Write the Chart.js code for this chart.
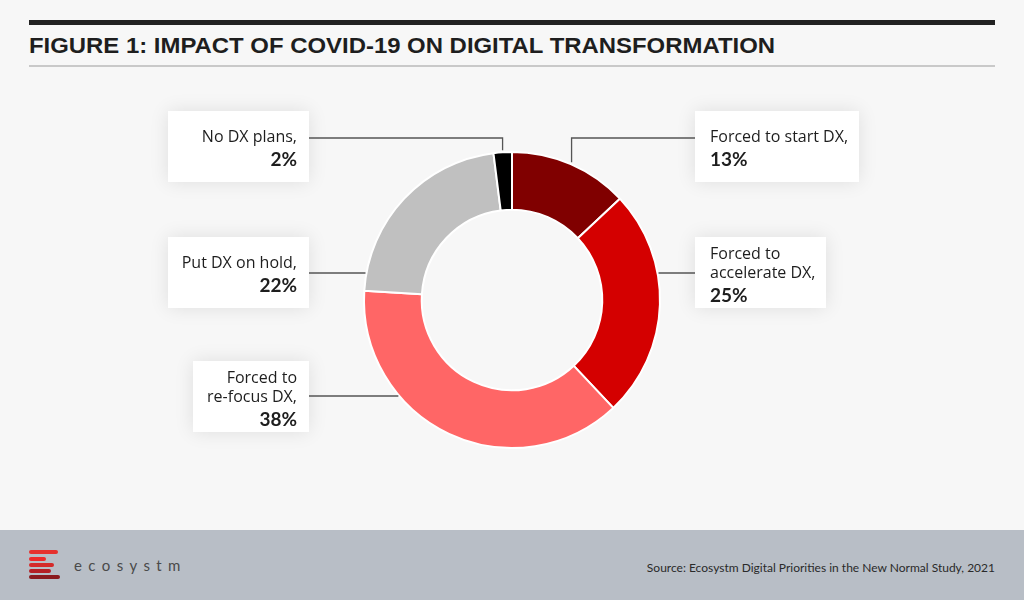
<!DOCTYPE html>
<html>
<head>
<meta charset="utf-8">
<script src="https://cdn.jsdelivr.net/npm/chart.js@4.4.0/dist/chart.umd.min.js"></script>
<style>
body{margin:0;background:#f7f7f7;}
#page{position:relative;width:1024px;height:600px;overflow:hidden;background:#f7f7f7;font-family:Lato,"Open Sans",sans-serif;}
.topbar{position:absolute;left:29px;top:20px;width:966px;height:5px;background:#222;}
.title{position:absolute;left:29px;top:33px;font:700 22px "Liberation Sans",Arial,sans-serif;line-height:26px;color:#1e1e1e;white-space:nowrap;transform-origin:0 0;}
.rule{position:absolute;left:29px;top:65px;width:966px;height:2px;background:#c9c9c9;}
#chart{position:absolute;left:0;top:0;}
.footer{position:absolute;left:0;top:530px;width:1024px;height:70px;background:#b8bec6;}
.bar{position:absolute;left:29px;height:4px;border-radius:2px;}
.brand{position:absolute;left:74px;top:555px;font:400 15px Lato,sans-serif;line-height:20px;letter-spacing:6.4px;color:#4a4a4a;}
.source{position:absolute;right:29px;top:560px;font:400 12px Lato,sans-serif;line-height:16px;color:#2a2a2a;}
</style>
</head>
<body>
<div id="page">
  <div class="topbar"></div>
  <div class="title" id="title">FIGURE 1: IMPACT OF COVID-19 ON DIGITAL TRANSFORMATION</div>
  <div class="rule"></div>
  <canvas id="chart" width="1024" height="530"></canvas>
  <div class="footer">
    <div class="bar" style="top:20px;width:29px;background:#e6312e"></div>
    <div class="bar" style="top:26.5px;width:17px;background:#ee2a2a"></div>
    <div class="bar" style="top:32.5px;width:25px;background:#d52a2a"></div>
    <div class="bar" style="top:38.5px;width:22px;background:#b51f24"></div>
    <div class="bar" style="top:45px;width:31px;background:#8a1a1e"></div>
  </div>
  <div class="brand">ecosystm</div>
  <div class="source" id="source">Source: Ecosystm Digital Priorities in the New Normal Study, 2021</div>
</div>
<script>
// chart data
var categories = ['Forced to start DX', 'Forced to accelerate DX', 'Forced to re-focus DX', 'Put DX on hold', 'No DX plans'];
var shares = [13, 25, 38, 22, 2];
var labelLines = [
    ['Forced to start DX,'],
    ['Forced to', 'accelerate DX,'],
    ['Forced to', 're-focus DX,'],
    ['Put DX on hold,'],
    ['No DX plans,']
];

// fit the title to the reference width
var title = document.getElementById('title');
title.style.transform = 'scaleX(' + (746 / title.getBoundingClientRect().width) + ')';

// callout boxes, one per slice (sameAs: share the width of another box)
var callouts = [
    {side: 'right', edge: 695, top: 111, leader: 'elbow', ly: 138},
    {side: 'right', edge: 695, top: 237, leader: 'flat', ly: 273},
    {side: 'left', edge: 309, top: 361, leader: 'flat', ly: 396},
    {side: 'left', edge: 309, top: 237, leader: 'flat', ly: 273},
    {side: 'left', edge: 309, top: 111, leader: 'elbow', ly: 138, sameAs: 3}
];
var REG = '400 16px "Open Sans", sans-serif';
var BOLD = '700 19px Lato, sans-serif';

function boxWidth(ctx, i) {
    ctx.save();
    ctx.font = REG;
    var maxW = 0;
    labelLines[i].forEach(function (t) { maxW = Math.max(maxW, ctx.measureText(t).width); });
    ctx.font = BOLD;
    maxW = Math.max(maxW, ctx.measureText(shares[i] + '%').width);
    ctx.restore();
    return Math.round(maxW + 26);
}

var calloutPlugin = {
    id: 'callouts',
    afterDatasetsDraw: function (chart) {
        var ctx = chart.ctx;
        var meta = chart.getDatasetMeta(0);
        meta.data.forEach(function (arc, i) {
            var c = callouts[i];
            var p = arc.getProps(['x', 'y', 'startAngle', 'endAngle', 'outerRadius']);
            var lines = labelLines[i];
            var pct = shares[i] + '%';
            var w = boxWidth(ctx, i), h = 71;
            if (c.sameAs !== undefined) w = Math.max(w, boxWidth(ctx, c.sameAs));
            var bx = c.side === 'right' ? c.edge : c.edge - w;

            ctx.save();
            ctx.shadowColor = 'rgba(0,0,0,0.10)';
            ctx.shadowBlur = 18;
            ctx.fillStyle = '#fff';
            ctx.fillRect(bx, c.top, w, h);
            ctx.restore();

            // leader line
            ctx.save();
            ctx.beginPath();
            ctx.strokeStyle = '#555';
            ctx.lineWidth = 1.3;
            var sx = c.side === 'right' ? bx : bx + w;
            ctx.moveTo(sx, c.ly);
            if (c.leader === 'elbow') {
                var mid = (p.startAngle + p.endAngle) / 2;
                var r = p.outerRadius + 2;
                var ex = p.x + Math.cos(mid) * r, ey = p.y + Math.sin(mid) * r;
                ctx.lineTo(ex, c.ly);
                ctx.lineTo(ex, ey);
            } else {
                var dy = c.ly - p.y;
                var dx = Math.sqrt(Math.max(p.outerRadius * p.outerRadius - dy * dy, 0)) + 1;
                ctx.lineTo(c.side === 'right' ? p.x + dx : p.x - dx, c.ly);
            }
            ctx.stroke();
            ctx.restore();

            // text
            var n = lines.length;
            var blockH = 11.6 + (n - 1) * 19 + 24;
            var base = c.top + (h - blockH) / 2 + 2 + 11.6;
            var tx = c.side === 'right' ? bx + 15 : bx + w - 12;
            ctx.save();
            ctx.fillStyle = '#1e1e1e';
            ctx.textAlign = c.side === 'right' ? 'left' : 'right';
            ctx.textBaseline = 'alphabetic';
            ctx.font = REG;
            lines.forEach(function (t, k) { ctx.fillText(t, tx, base + k * 19); });
            ctx.font = BOLD;
            ctx.fillText(pct, tx, base + (n - 1) * 19 + 24);
            ctx.restore();
        });
    }
};

var donutCanvas = document.getElementById('chart').getContext('2d');
var donutChart = new Chart(donutCanvas, {
    type: 'doughnut',
    data: {
        labels: categories,
        datasets: [{
            data: shares,
            backgroundColor: ['#800000', '#d40000', '#ff6666', '#c0c0c0', '#000000'],
            borderColor: '#ffffff',
            borderWidth: 2
        }]
    },
    options: {
        responsive: false,
        animation: false,
        cutout: '61%',
        layout: {padding: {left: 363, right: 363, top: 151, bottom: 81}},
        plugins: {legend: {display: false}, tooltip: {enabled: false}}
    },
    plugins: [calloutPlugin]
});
</script>
</body>
</html>
